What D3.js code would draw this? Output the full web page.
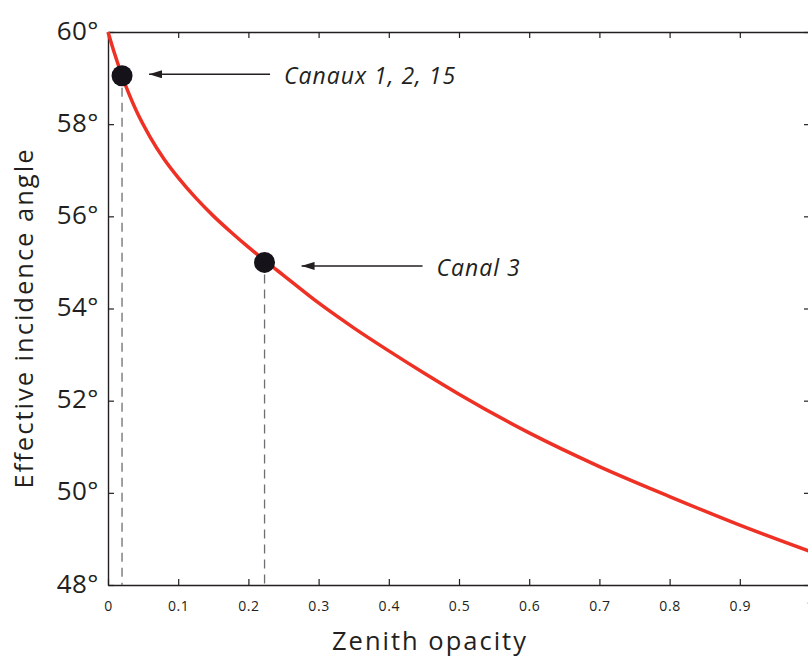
<!DOCTYPE html>
<html>
<head>
<meta charset="utf-8">
<script src="https://cdn.jsdelivr.net/npm/d3@7"></script>
<style>
  body { margin: 0; background: #fff; }
  text { font-family: "Open Sans", sans-serif; fill: #231f20; }
</style>
</head>
<body>
<div id="chart"></div>
<script>
// curve: zenith opacity -> effective incidence angle (deg)
let opacity = [0, 0.01, 0.02, 0.03, 0.04, 0.06, 0.08, 0.1, 0.125, 0.15, 0.175, 0.2, 0.225, 0.25, 0.3, 0.35, 0.4, 0.45, 0.5, 0.6, 0.7, 0.8, 0.9, 1.0];
let angle   = [60, 59.5, 59.05, 58.65, 58.3, 57.72, 57.24, 56.84, 56.4, 56.01, 55.66, 55.33, 55.02, 54.72, 54.12, 53.58, 53.08, 52.6, 52.14, 51.3, 50.57, 49.92, 49.3, 48.73];

// marked channels
let channelLabels = ["Canaux 1, 2, 15", "Canal 3"];
let channelOpacity = [0.02, 0.223];
let channelAngle = [59.05, 55.0];

let xTicks = [0, 0.1, 0.2, 0.3, 0.4, 0.5, 0.6, 0.7, 0.8, 0.9, 1];
let yTicks = [48, 50, 52, 54, 56, 58, 60];

const width = 808, height = 659;
const plot = {left: 108, right: 810, top: 32, bottom: 585};

let svg = d3.select("#chart").append("svg")
    .attr("width", width)
    .attr("height", height);

let x = d3.scaleLinear().domain([0, 1]).range([plot.left, plot.right]);
let y = d3.scaleLinear().domain([48, 60]).range([plot.bottom, plot.top]);

// axes, matlab style box with inward ticks
function styleAxis(g) {
    g.select(".domain").attr("stroke", "#231f20").attr("stroke-width", 1.4);
    g.selectAll(".tick line").attr("stroke", "#231f20").attr("stroke-width", 1.2);
}

svg.append("g")
    .attr("transform", `translate(0,${plot.bottom})`)
    .call(d3.axisBottom(x).tickValues(xTicks).tickSizeInner(-6).tickSizeOuter(0)
        .tickPadding(16).tickFormat(d => d3.format("")(d)))
    .call(styleAxis)
    .call(g => g.selectAll(".tick text").attr("font-size", 14).attr("font-family", "Open Sans")
        .attr("letter-spacing", 0.6).attr("fill", "#231f20"));

svg.append("g")
    .attr("transform", `translate(0,${plot.top})`)
    .call(d3.axisTop(x).tickValues(xTicks).tickSizeInner(-6).tickSizeOuter(0).tickFormat(""))
    .call(styleAxis);

svg.append("g")
    .attr("transform", `translate(${plot.left},0)`)
    .call(d3.axisLeft(y).tickValues(yTicks).tickSizeInner(-6).tickSizeOuter(0)
        .tickPadding(9).tickFormat(d => d + "°"))
    .call(styleAxis)
    .call(g => g.selectAll(".tick text").attr("font-size", 26).attr("font-family", "Open Sans")
        .attr("letter-spacing", 0.5).attr("fill", "#231f20").attr("dy", "0.27em"));

svg.append("g")
    .attr("transform", `translate(${plot.right},0)`)
    .call(d3.axisRight(y).tickValues(yTicks).tickSizeInner(-6).tickSizeOuter(0).tickFormat(""))
    .call(styleAxis);

// axis titles
svg.append("text")
    .attr("x", 430)
    .attr("y", 650)
    .attr("text-anchor", "middle")
    .attr("font-size", 25.5)
    .attr("letter-spacing", 2)
    .text("Zenith opacity");

svg.append("text")
    .attr("transform", `translate(33,318) rotate(-90)`)
    .attr("text-anchor", "middle")
    .attr("font-size", 25.5)
    .attr("letter-spacing", 2)
    .text("Effective incidence angle");

// dashed drop lines
svg.selectAll(".drop")
    .data(channelOpacity)
    .enter()
    .append("line")
    .attr("class", "drop")
    .attr("x1", d => x(d))
    .attr("x2", d => x(d))
    .attr("y1", (d, i) => y(channelAngle[i]) + 12)
    .attr("y2", plot.bottom)
    .attr("stroke", "#6d6e71")
    .attr("stroke-width", 1.3)
    .attr("stroke-dasharray", "9,6");

// curve
let line = d3.line()
    .x((d, i) => x(opacity[i]))
    .y(d => y(d))
    .curve(d3.curveMonotoneX);

svg.append("path")
    .datum(angle)
    .attr("fill", "none")
    .attr("stroke", "#ee3124")
    .attr("stroke-width", 3.5)
    .attr("d", line);

// dots
svg.selectAll(".dot")
    .data(channelOpacity)
    .enter()
    .append("circle")
    .attr("cx", d => x(d))
    .attr("cy", (d, i) => y(channelAngle[i]))
    .attr("r", 10.5)
    .attr("fill", "#151219");

// arrows and labels
svg.append("defs").append("marker")
    .attr("id", "head")
    .attr("viewBox", "0 0 13 8")
    .attr("refX", 0)
    .attr("refY", 4)
    .attr("markerWidth", 13)
    .attr("markerHeight", 8)
    .attr("markerUnits", "userSpaceOnUse")
    .attr("orient", "auto")
    .append("path")
    .attr("d", "M0,4 L13,0 L13,8 Z")
    .attr("fill", "#231f20");

// gap from dot to arrow tip, and arrow height relative to dot
let arrowGap = [27, 37];
let arrowShift = [-1.5, 3.5];

channelOpacity.forEach(function(d, i) {
    let ax = x(d) + arrowGap[i], ay = y(channelAngle[i]) + arrowShift[i];
    svg.append("line")
        .attr("x1", ax)
        .attr("y1", ay)
        .attr("x2", ax + 121)
        .attr("y2", ay)
        .attr("stroke", "#231f20")
        .attr("stroke-width", 1.5)
        .attr("marker-start", "url(#head)");
    svg.append("text")
        .attr("x", ax + 135)
        .attr("y", ay + 10)
        .attr("font-size", 23)
        .attr("font-style", "italic")
        .attr("letter-spacing", 1)
        .text(channelLabels[i]);
});
</script>
</body>
</html>
